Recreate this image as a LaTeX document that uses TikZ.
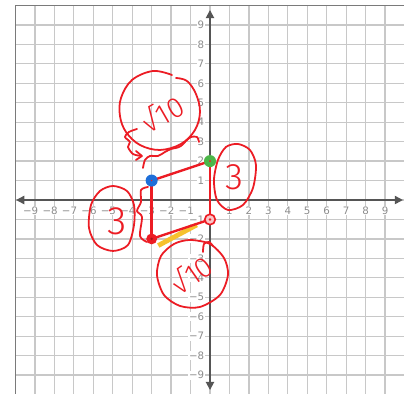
\documentclass[tikz,border=0pt]{standalone}
\usepackage{fontspec}
\setmainfont{DejaVu Sans}
\newfontfamily\hand{Fira Sans}[UprightFont={* Light}]
\usetikzlibrary{arrows.meta}
\definecolor{gridc}{HTML}{C8C8C8}
\definecolor{framec}{HTML}{7A7A7A}
\definecolor{axisc}{HTML}{555555}
\definecolor{ticklbl}{HTML}{8C8C8C}
\definecolor{pen}{HTML}{EC1C24}
\definecolor{hl}{HTML}{F6C12F}
\definecolor{dotblue}{HTML}{1E6FD9}
\definecolor{dotgreen}{HTML}{4CB648}
\begin{document}
\begin{tikzpicture}[
  gridline/.style={gridc, line width=1.8pt},
  axisline/.style={axisc, line width=2.6pt, {Triangle[length=12pt,width=12pt]}-{Triangle[length=12pt,width=12pt]}},
  tick/.style={text=ticklbl, font=\fontsize{15}{15}\selectfont, fill=white, inner sep=1pt},
  seg/.style={pen, line width=3.4pt, line cap=round},
  ink/.style={pen, line width=2.6pt, line cap=round, line join=round},
  dot/.style={circle, inner sep=0pt, minimum size=0.62cm},
  core/.style={circle, inner sep=0pt, minimum size=0.14cm, fill=pen},
  handtext/.style={text=pen, font=\hand\fontsize{42}{42}\selectfont, inner sep=0pt},
  handthree/.style={text=pen, font=\hand\fontsize{54}{54}\selectfont, inner sep=0pt}
]
\useasboundingbox (-10.797,-9.923) rectangle (9.974,10.283);
\clip (-10.797,-9.923) rectangle (9.974,10.283);
\fill[white] (-10.797,-9.923) rectangle (9.974,10.283);
% grid and frame
\draw[gridline] (-10,-10) grid (10,10);
\draw[framec, line width=2.4pt] (-10,-10.5) -- (-10,10) -- (10.5,10);
% axes
\coordinate (xl) at (-9.97,0);
\coordinate (xr) at (9.92,0);
\coordinate (yb) at (0,-9.77);
\coordinate (yt) at (0,9.77);
\draw[axisline] (xl) -- (xr);
\draw[axisline] (yb) -- (yt);
% tick labels
\foreach \i in {1,...,9} {
  \node[tick] (txp\i) at (\i,-0.55) {\i};
  \node[tick] (txm\i) at (-\i,-0.55) {\llap{−}\i};
  \node[tick, anchor=east] (typ\i) at (-0.26,\i) {\i};
  \node[tick, anchor=east] (tym\i) at (-0.26,-\i) {−\i};
}
% points
\coordinate (B) at (-3,1);
\coordinate (G) at (0,2);
\coordinate (R1) at (0,-1);
\coordinate (R2) at (-3,-2);
\coordinate (h1) at (-2.66,-2.34);
\coordinate (h2) at (-0.68,-1.28);
\draw[hl, line width=7pt] (h1) -- (h2);
\draw[seg] (B) -- (G);
\draw[seg] (G) -- (R1);
\draw[seg] (B) -- (R2);
\draw[seg] (R2) -- (R1);
\node[dot, fill=dotblue] (Bdot) at (B) {};
\node[core, minimum size=0.08cm] (Bc) at (B) {};
\node[dot, fill=dotgreen] (Gdot) at (G) {};
\node[core, minimum size=0.1cm] (Gc) at (G) {};
\node[dot, minimum size=0.54cm, draw=pen, line width=2.4pt, fill=pen!25] (R1dot) at (R1) {};
\node[core] (R1c) at (R1) {};
\node[dot, minimum size=0.56cm, fill=pen] (R2dot) at (R2) {};
\node[core, fill=pen!70!black] (R2c) at (R2) {};
% hand-drawn annotations, in pixel coordinates
\begin{scope}[shift={(-10.797,10.283)}, x=0.05141cm, y=-0.05141cm]
  % top sqrt10 loop
  \draw[ink] plot[smooth, tension=0.6] coordinates {(172,75) (153,71) (132,80) (121,98) (120,116) (126,132) (140,145) (160,150) (181,144) (195,130) (200,112) (196,94) (187,81) (176,78)};
  \draw[ink] plot[smooth] coordinates {(137,129) (129,132) (125,137) (130,142) (128,147) (133,154) (141,156)};
  \draw[ink] (136,151) -- (142,156) -- (136,160);
  \draw[ink] plot[smooth] coordinates {(143,168) (145,160) (150,156) (158,156) (165,152) (171,149) (176,148) (181,146) (186,141) (191,137) (197,137) (199,142)};
  \node[handtext, rotate=30] (t1) at (162,113) {√10};
  % right 3
  \draw[ink] plot[smooth cycle] coordinates {(238,144) (250,150) (256,165) (253,188) (243,205) (228,210) (217,200) (214,180) (218,160) (226,147)};
  \node[handthree] (t2) at (234,177) {3};
  % left 3 and brace
  \draw[ink] plot[smooth cycle] coordinates {(113,186) (127,191) (134,205) (134,225) (128,245) (113,251) (97,245) (89,228) (91,205) (100,191)};
  \node[handthree, font=\hand\fontsize{58}{58}\selectfont] (t3) at (117,221) {3};
  \draw[ink] plot[smooth] coordinates {(148,187) (141,190) (141,202) (137,211) (142,217) (140,236) (147,242)};
  % bottom sqrt10 loop
  \draw[ink] plot[smooth cycle] coordinates {(190,240) (210,244) (224,258) (228,275) (220,295) (200,307) (180,306) (164,295) (157,275) (161,256) (174,244)};
  \draw[ink] plot[smooth] coordinates {(203,252) (204,244) (209,242) (213,246)};
  \node[handtext, rotate=35] (t4) at (191,274) {√10};
\end{scope}
\end{tikzpicture}
\end{document}
